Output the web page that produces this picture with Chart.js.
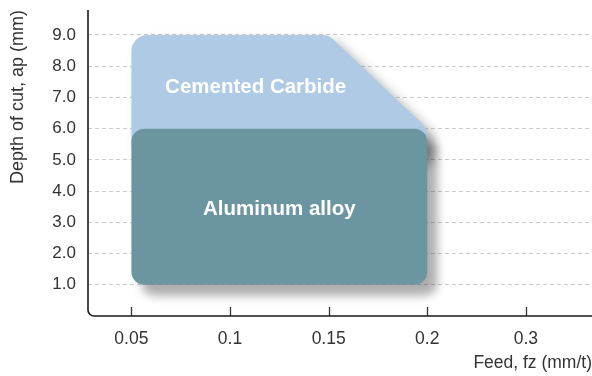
<!DOCTYPE html>
<html>
<head>
<meta charset="utf-8">
<script src="https://cdn.jsdelivr.net/npm/chart.js@4/dist/chart.umd.min.js"></script>
<style>
  html, body { margin: 0; padding: 0; background: #fff; }
  #wrap { width: 592px; height: 376px; }
</style>
</head>
<body>
<div id="wrap"><canvas id="myChart"></canvas></div>
<script>
// feed ticks are spaced evenly, not proportionally
const feedTicks = [0.05, 0.1, 0.15, 0.2, 0.3];
const depthTicks = [1, 2, 3, 4, 5, 6, 7, 8, 9];

// Cemented Carbide range (outline, clockwise)
const carbideFeed = [0.05, 0.05, 0.15, 0.2, 0.2];
const carbideDepth = [5, 9, 9, 6, 5];

// Aluminum alloy range
const aluminumFeed = [0.05, 0.05, 0.2, 0.2];
const aluminumDepth = [1, 6, 6, 1];

const FONT = "'Liberation Sans', Arial, Helvetica, sans-serif";

// feed value -> position on the evenly spaced axis
function feedPos(f) {
    for (let i = 0; i < feedTicks.length - 1; i++) {
        const a = feedTicks[i], b = feedTicks[i + 1];
        if (f <= b) return i + 1 + (f - a) / (b - a);
    }
    return feedTicks.length;
}

function toPoints(feeds, depths) {
    return feeds.map((f, i) => ({ x: feedPos(f), y: depths[i] }));
}

function roundedPath(ctx, pts, r) {
    const n = pts.length;
    const last = pts[n - 1], first = pts[0];
    ctx.beginPath();
    ctx.moveTo((last.x + first.x) / 2, (last.y + first.y) / 2);
    for (let i = 0; i < n; i++) {
        const p = pts[i], q = pts[(i + 1) % n];
        ctx.arcTo(p.x, p.y, q.x, q.y, r);
    }
    ctx.closePath();
}

// draws the filled ranges with rounded corners and drop shadows
const regionPlugin = {
    id: 'regions',
    beforeDatasetsDraw(chart) {
        const ctx = chart.ctx;
        const area = chart.chartArea;
        const xs = chart.scales.x;

        // small inward ticks on the feed axis
        ctx.save();
        ctx.strokeStyle = '#333';
        ctx.lineWidth = 1.3;
        feedTicks.forEach((f, i) => {
            const px = Math.round(xs.getPixelForValue(i + 1)) + 0.5;
            ctx.beginPath();
            ctx.moveTo(px, area.bottom - 9);
            ctx.lineTo(px, area.bottom);
            ctx.stroke();
        });
        ctx.restore();

        chart.data.datasets.forEach((ds, di) => {
            const pts = chart.getDatasetMeta(di).data.map(p => ({ x: p.x, y: p.y }));
            ctx.save();
            ctx.shadowColor = ds.shadowColor;
            ctx.shadowBlur = ds.shadowBlur;
            ctx.shadowOffsetX = ds.shadowX;
            ctx.shadowOffsetY = ds.shadowY;
            ctx.fillStyle = ds.backgroundColor;
            roundedPath(ctx, pts, ds.cornerRadius);
            ctx.fill();
            ctx.restore();
        });
    },
    afterDatasetsDraw(chart) {
        const ctx = chart.ctx;
        const area = chart.chartArea;
        const xs = chart.scales.x, ys = chart.scales.y;

        // axis lines with a rounded corner
        ctx.save();
        ctx.strokeStyle = '#1a1a1a';
        ctx.lineWidth = 1.6;
        const r = 6;
        ctx.beginPath();
        ctx.moveTo(area.left, area.top);
        ctx.lineTo(area.left, area.bottom - r);
        ctx.arcTo(area.left, area.bottom, area.left + r, area.bottom, r);
        ctx.lineTo(area.right + 2, area.bottom);
        ctx.stroke();
        ctx.restore();

        // region names
        ctx.save();
        ctx.fillStyle = '#ffffff';
        ctx.font = 'bold 20.5px ' + FONT;
        ctx.textAlign = 'center';
        ctx.textBaseline = 'middle';
        chart.data.datasets.forEach(ds => {
            const px = xs.getPixelForValue(feedPos(ds.labelAt.x));
            const py = ys.getPixelForValue(ds.labelAt.y);
            ctx.fillText(ds.label, px, py);
        });
        ctx.restore();
    }
};

const ctx = document.getElementById('myChart').getContext('2d');

const myChart = new Chart(ctx, {
    type: 'line',
    data: {
        datasets: [{
            label: 'Cemented Carbide',
            data: toPoints(carbideFeed, carbideDepth),
            backgroundColor: '#aecae4',
            shadowColor: 'rgba(0, 0, 0, 0.35)',
            shadowBlur: 12,
            shadowX: 7,
            shadowY: 7,
            cornerRadius: 16,
            labelAt: { x: 0.113, y: 7.33 }
        }, {
            label: 'Aluminum alloy',
            data: toPoints(aluminumFeed, aluminumDepth),
            backgroundColor: '#6b96a1',
            shadowColor: 'rgba(0, 0, 0, 0.32)',
            shadowBlur: 10,
            shadowX: 10,
            shadowY: 11,
            cornerRadius: 13,
            labelAt: { x: 0.125, y: 3.4 }
        }]
    },
    options: {
        responsive: true,
        maintainAspectRatio: false,
        animation: false,
        showLine: false,
        elements: {
            point: { radius: 0, hoverRadius: 0 },
            line: { borderWidth: 0 }
        },
        layout: {
            padding: { top: 10, right: 0, left: 0, bottom: 0 }
        },
        scales: {
            x: {
                type: 'linear',
                min: 0.56,
                max: 5.67,
                afterBuildTicks: scale => {
                    scale.ticks = feedTicks.map((f, i) => ({ value: i + 1 }));
                },
                afterFit: scale => {
                    scale.height = 60;
                    scale.paddingLeft = 0;
                    scale.paddingRight = 0;
                },
                grid: { display: false },
                border: { display: false },
                ticks: {
                    padding: 5,
                    color: '#333',
                    font: { family: FONT, size: 17.5 },
                    callback: (v, i) => String(feedTicks[i])
                },
                title: {
                    display: true,
                    text: 'Feed, fz (mm/t)',
                    align: 'end',
                    color: '#333',
                    font: { family: FONT, size: 17.5 },
                    padding: { top: 0, bottom: 2 }
                }
            },
            y: {
                min: 0,
                max: 9.8,
                afterBuildTicks: scale => {
                    scale.ticks = depthTicks.map(v => ({ value: v }));
                },
                afterFit: scale => {
                    scale.width = 88;
                    scale.paddingTop = 0;
                    scale.paddingBottom = 0;
                },
                grid: {
                    color: '#cccccc',
                    lineWidth: 1,
                    drawTicks: false
                },
                border: { display: false, dash: [4, 3] },
                ticks: {
                    padding: 12,
                    color: '#333',
                    font: { family: FONT, size: 17 },
                    callback: v => v.toFixed(1)
                },
                title: {
                    display: true,
                    text: 'Depth of cut, ap (mm)',
                    align: 'end',
                    color: '#333',
                    font: { family: FONT, size: 18 },
                    padding: { top: 7, bottom: 0 }
                }
            }
        },
        plugins: {
            legend: { display: false },
            tooltip: { enabled: false }
        }
    },
    plugins: [regionPlugin]
});
</script>
</body>
</html>
